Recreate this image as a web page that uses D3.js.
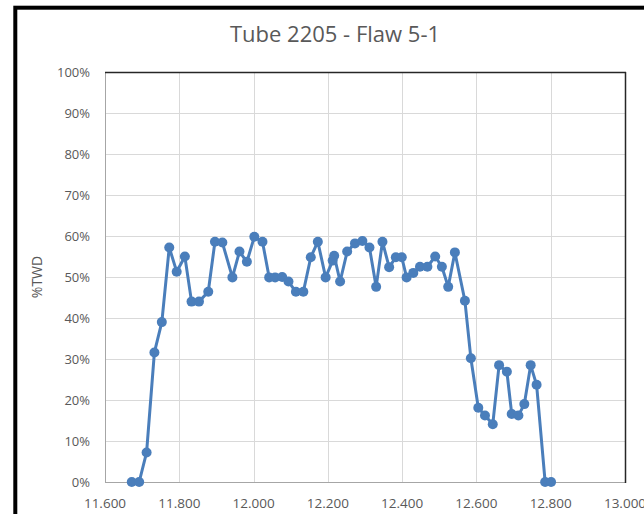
<!DOCTYPE html>
<html>
<head>
<meta charset="utf-8">
<script src="https://cdn.jsdelivr.net/npm/d3@7"></script>
<style>
  body { margin: 0; background: #fff; }
  svg { display: block; font-family: "Open Sans", "Noto Sans", sans-serif; }
</style>
</head>
<body>
<svg id="chart" width="644" height="514"></svg>
<script>
"use strict";

// === Data (position along tube, %TWD) ===
const positions = [
  11.672, 11.692, 11.712, 11.733, 11.753, 11.773, 11.793, 11.815, 11.833, 11.853,
  11.878, 11.896, 11.916, 11.943, 11.962, 11.982, 12.002, 12.024, 12.042, 12.058,
  12.077, 12.094, 12.114, 12.134, 12.154, 12.173, 12.194, 12.213, 12.217, 12.233,
  12.252, 12.273, 12.293, 12.312, 12.330, 12.347, 12.365, 12.383, 12.399, 12.412,
  12.430, 12.448, 12.468, 12.489, 12.507, 12.524, 12.542, 12.569, 12.585, 12.605,
  12.623, 12.644, 12.661, 12.682, 12.695, 12.713, 12.729, 12.746, 12.762, 12.785,
  12.801
];
const twd = [
  0.000, 0.000, 0.072, 0.316, 0.390, 0.572, 0.513, 0.550, 0.440, 0.440,
  0.464, 0.586, 0.584, 0.499, 0.562, 0.537, 0.598, 0.586, 0.499, 0.499,
  0.500, 0.489, 0.464, 0.464, 0.548, 0.586, 0.499, 0.540, 0.552, 0.489,
  0.562, 0.582, 0.588, 0.572, 0.476, 0.586, 0.524, 0.548, 0.548, 0.499,
  0.510, 0.525, 0.525, 0.550, 0.525, 0.476, 0.560, 0.442, 0.302, 0.181,
  0.162, 0.141, 0.285, 0.269, 0.166, 0.162, 0.190, 0.285, 0.237, 0.000,
  0.000
];
const xTicks = [11.6, 11.8, 12.0, 12.2, 12.4, 12.6, 12.8, 13.0];
const yTicks = [0, 0.1, 0.2, 0.3, 0.4, 0.5, 0.6, 0.7, 0.8, 0.9, 1.0];

const svg = d3.select("#chart");
const plot = { left: 105, right: 625, top: 72, bottom: 482 };

// === Outer frame ===
svg.append("rect")
  .attr("x", 15.3).attr("y", 7.7)
  .attr("width", 700).attr("height", 600)
  .attr("fill", "none").attr("stroke", "#000").attr("stroke-width", 4);

const x = d3.scaleLinear().domain([11.6, 13.0]).range([plot.left, plot.right]);
const y = d3.scaleLinear().domain([0, 1]).range([plot.bottom, plot.top]);

// === Gridlines ===
svg.append("g").selectAll("line").data(yTicks.slice(1, -1)).join("line")
  .attr("x1", plot.left).attr("x2", plot.right)
  .attr("y1", d => y(d) + 0.5).attr("y2", d => y(d) + 0.5)
  .attr("stroke", "#d9d9d9").attr("stroke-width", 1);
svg.append("g").selectAll("line").data(xTicks.slice(1, -1)).join("line")
  .attr("x1", d => Math.round(x(d)) + 0.5).attr("x2", d => Math.round(x(d)) + 0.5)
  .attr("y1", plot.top).attr("y2", plot.bottom)
  .attr("stroke", "#d9d9d9").attr("stroke-width", 1);

// === Plot area border ===
svg.append("line")
  .attr("x1", plot.left + 0.5).attr("x2", plot.left + 0.5)
  .attr("y1", plot.top).attr("y2", plot.bottom)
  .attr("stroke", "#a6a6a6");
svg.append("line")
  .attr("x1", plot.left).attr("x2", plot.right)
  .attr("y1", plot.bottom + 0.5).attr("y2", plot.bottom + 0.5)
  .attr("stroke", "#a6a6a6");
svg.append("line")
  .attr("x1", plot.left).attr("x2", plot.right + 1)
  .attr("y1", plot.top + 0.5).attr("y2", plot.top + 0.5)
  .attr("stroke", "#262626").attr("stroke-width", 1.5);
svg.append("line")
  .attr("x1", plot.right + 0.5).attr("x2", plot.right + 0.5)
  .attr("y1", plot.top).attr("y2", plot.bottom + 1)
  .attr("stroke", "#262626").attr("stroke-width", 1.5);

// === Axes labels ===
svg.append("g").selectAll("text").data(yTicks).join("text")
  .attr("x", 90).attr("y", d => y(d))
  .attr("dy", "0.35em").attr("text-anchor", "end")
  .attr("font-size", 13).attr("fill", "#595959")
  .text(d => d3.format(".0%")(d));

svg.append("g").selectAll("text").data(xTicks).join("text")
  .attr("x", d => x(d)).attr("y", 508)
  .attr("text-anchor", "middle")
  .attr("font-size", 13.5).attr("fill", "#595959")
  .text(d => d3.format(".3f")(d));

svg.append("text")
  .attr("transform", "translate(42,277) rotate(-90)")
  .attr("text-anchor", "middle")
  .attr("font-size", 14).attr("fill", "#595959")
  .text("%TWD");

// === Title ===
svg.append("text")
  .attr("x", 335).attr("y", 42)
  .attr("text-anchor", "middle")
  .attr("font-size", 22).attr("fill", "#595959")
  .text("Tube 2205 - Flaw 5-1");

// === Series ===
const pts = positions.map((p, i) => [p, twd[i]]);
svg.append("path")
  .datum(pts)
  .attr("d", d3.line().x(d => x(d[0])).y(d => y(d[1])))
  .attr("fill", "none").attr("stroke", "#4a7ebb")
  .attr("stroke-width", 3).attr("stroke-linejoin", "round");
svg.append("g").selectAll("circle").data(pts).join("circle")
  .attr("cx", d => x(d[0])).attr("cy", d => y(d[1]))
  .attr("r", 5).attr("fill", "#4a7ebb");
</script>
</body>
</html>
